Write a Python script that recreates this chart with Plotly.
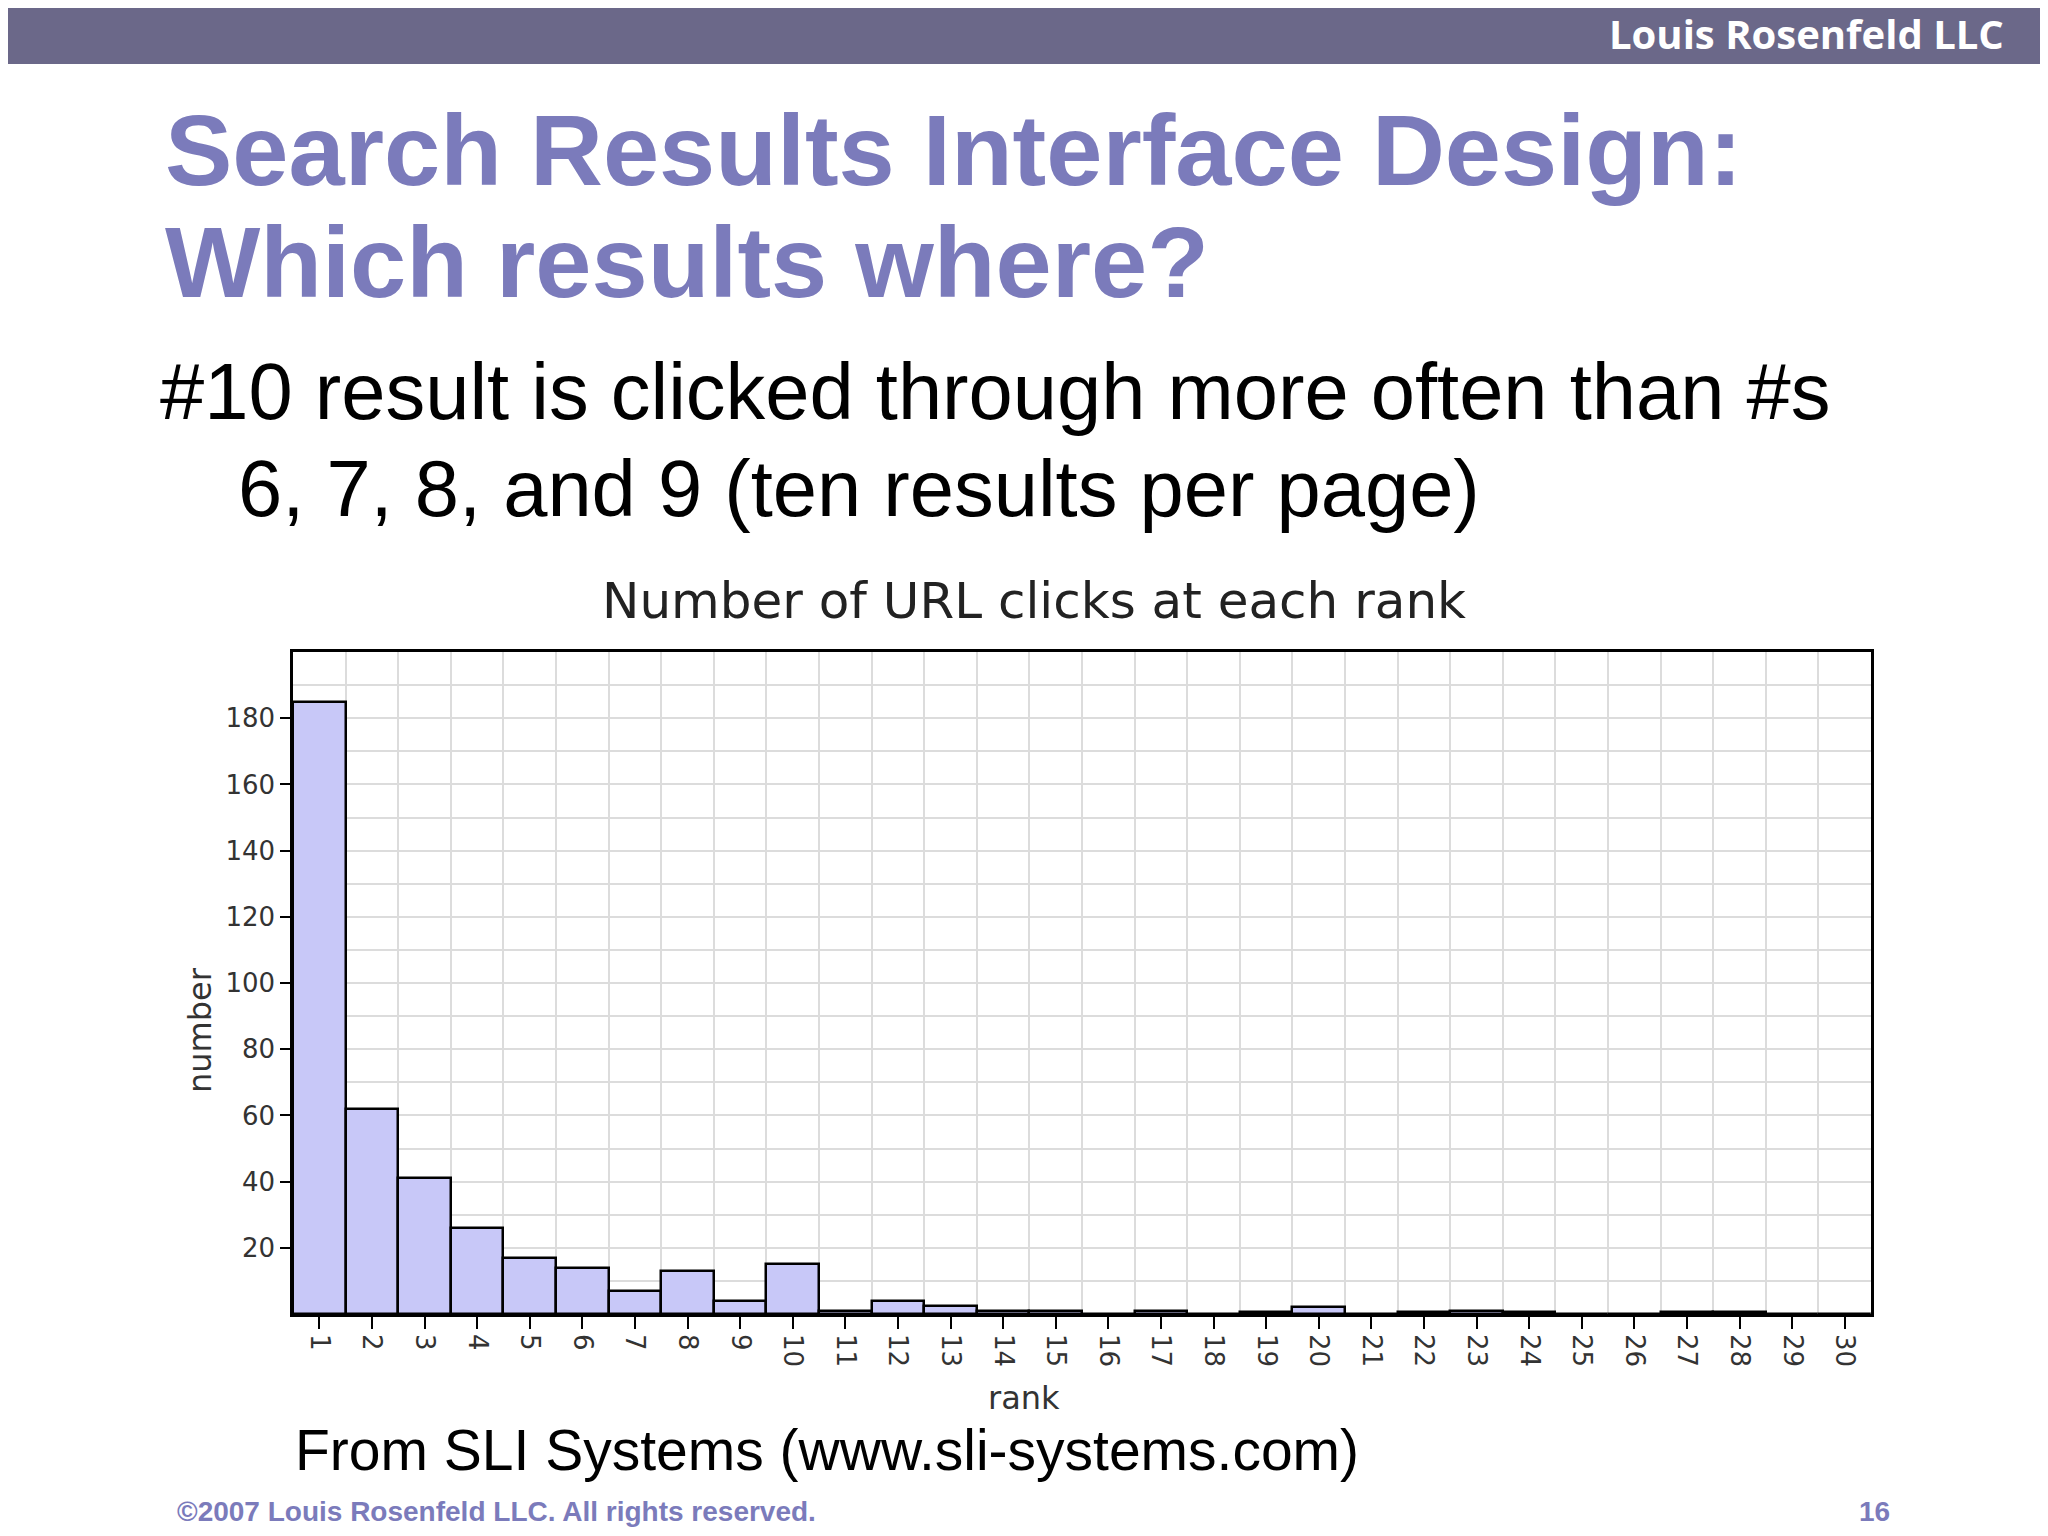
import plotly.graph_objects as go

ranks = list(range(1, 31))
clicks = [185, 62, 41, 26, 17, 14, 7, 13, 4, 15, 1, 4, 2.5, 1, 1, 0, 1, 0, 0.5, 2,
          0, 0.5, 1, 0.5, 0, 0, 0.5, 0.5, 0, 0]
tick_labels = [str(r) for r in ranks]
yticks = [20, 40, 60, 80, 100, 120, 140, 160, 180]

OFF = 8
W, H = 2048, 1536
L, R, T, B = 293 - OFF, 1871 - OFF, 652 - OFF, 1314 - OFF
def px(x): return (x - OFF - L) / (R - L)
def py(y): return (B - (y - OFF)) / (B - T)

fig = go.Figure(go.Bar(x=ranks, y=clicks, width=1, marker=dict(color="#c8c8f8", line=dict(color="black", width=2.5))))

purple = "#7b7bbb"
ann = [
    dict(x=px(163), y=py(150), text="<b>Search Results Interface Design:</b>", font=dict(size=101, color=purple, family="Liberation Sans"), xanchor="left", yanchor="middle"),
    dict(x=px(163), y=py(262), text="<b>Which results where?</b>", font=dict(size=101, color=purple, family="Liberation Sans"), xanchor="left", yanchor="middle"),
    dict(x=px(158), y=py(392), text="#10 result is clicked through more often than #s", font=dict(size=79.5, color="black", family="Liberation Sans"), xanchor="left", yanchor="middle"),
    dict(x=px(236), y=py(488), text="6, 7, 8, and 9 (ten results per page)", font=dict(size=79.5, color="black", family="Liberation Sans"), xanchor="left", yanchor="middle"),
    dict(x=px(1034), y=py(601), text="Number of URL clicks at each rank", font=dict(size=50, color="#222", family="DejaVu Sans"), xanchor="center", yanchor="middle"),
    dict(x=px(1024), y=py(1398), text="rank", font=dict(size=32, color="#333", family="DejaVu Sans"), xanchor="center", yanchor="middle"),
    dict(x=px(200), y=py(1030), text="number", font=dict(size=32, color="#333", family="DejaVu Sans"), textangle=-90, xanchor="center", yanchor="middle"),
    dict(x=px(293), y=py(1450), text="From SLI Systems (www.sli-systems.com)", font=dict(size=57, color="black", family="Liberation Sans"), xanchor="left", yanchor="middle"),
    dict(x=px(175), y=py(1511), text="<b>©2007 Louis Rosenfeld LLC. All rights reserved.</b>", font=dict(size=28, color=purple, family="Liberation Sans"), xanchor="left", yanchor="middle"),
    dict(x=px(1892), y=py(1511), text="<b>16</b>", font=dict(size=28, color=purple, family="Liberation Sans"), xanchor="right", yanchor="middle"),
    dict(x=px(2006), y=py(33), text="<b>Louis Rosenfeld LLC</b>", font=dict(size=40, color="white", family="Open Sans"), xanchor="right", yanchor="middle"),
]
for a in ann:
    a.update(xref="paper", yref="paper", showarrow=False)

fig.update_layout(
    width=W, height=H, margin=dict(l=L, r=W - R, t=T, b=H - B),
    paper_bgcolor="white", plot_bgcolor="white", showlegend=False,
    annotations=ann,
    shapes=[dict(type="rect", xref="paper", yref="paper", x0=px(-20), x1=px(W + 20), y0=py(-20), y1=py(64),
                 fillcolor="#6b6889", line=dict(width=0), layer="below")],
    bargap=0,
)
fig.update_xaxes(range=[0.5, 30.5], tickvals=ranks, ticktext=tick_labels, tickangle=90,
                 ticks="outside", ticklen=12, tickwidth=2, tickcolor="black",
                 tickfont=dict(size=26, color="#333", family="DejaVu Sans"),
                 showgrid=False, showline=True, linecolor="black", linewidth=2.5, mirror=True,
                 minor=dict(tickvals=[r + 0.5 for r in ranks], showgrid=True, gridcolor="#dcdcdc", gridwidth=1.5))
fig.update_yaxes(range=[0, 200], tickvals=yticks, ticks="outside", ticklen=10, tickwidth=2, tickcolor="black",
                 tickfont=dict(size=26, color="#333", family="DejaVu Sans"),
                 showgrid=False, zeroline=False, showline=True, linecolor="black", linewidth=2.5, mirror=True,
                 minor=dict(dtick=10, showgrid=True, gridcolor="#dcdcdc", gridwidth=1.5))
fig.write_html("out.html")
